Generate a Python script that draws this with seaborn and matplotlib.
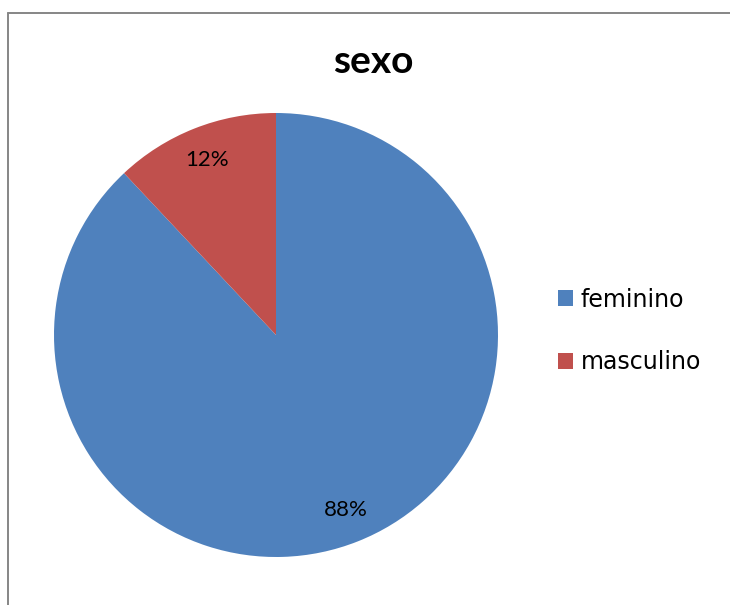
import matplotlib
matplotlib.use("Agg")
import matplotlib.pyplot as plt
import seaborn as sns
from matplotlib.patches import Patch
from matplotlib.lines import Line2D

categories = ["feminino", "masculino"]
values = [88, 12]
colors = ["#4F81BD", "#C0504D"]
title = "sexo"

sns.set_theme(style="white")
plt.rcParams["text.color"] = "#000000"

W, H = 730, 605
fig = plt.figure(figsize=(W / 100, H / 100), dpi=100)
fig.patch.set_facecolor("white")

# pie axes: center (276,335), radius 222 px
cx, cy, r = 276, 335, 222
ax = fig.add_axes([(cx - r) / W, (H - cy - r) / H, 2 * r / W, 2 * r / H])
wedges, texts, autotexts = ax.pie(
    values, colors=colors, startangle=90, counterclock=False,
    autopct=lambda p: f"{p:.0f}%", pctdistance=0.85, radius=1.0,
    wedgeprops=dict(linewidth=0),
    textprops=dict(fontsize=16, family=["Lato", "DejaVu Sans"], color="#000000"),
)
ax.set_xlim(-1, 1)
ax.set_ylim(-1, 1)
ax.set_aspect("equal")
ax.axis("off")

fig.text(373 / W, 1 - 73 / H, title, ha="center", va="baseline", color="#000000",
         fontsize=28, fontweight="bold", family=["Lato", "DejaVu Sans"])

handles = [Patch(facecolor=c, edgecolor="none", label=l) for c, l in zip(colors, categories)]
leg = fig.legend(handles=handles, loc="center left", bbox_to_anchor=(558 / W, 1 - 331 / H),
                 frameon=False, prop=dict(family="DejaVu Sans", size=17),
                 handlelength=0.65, handleheight=0.65, handletextpad=0.3,
                 labelspacing=1.65, borderpad=0, borderaxespad=0)
for t in leg.get_texts():
    t.set_color("#000000")

# outer border (cropped chart frame)
lc = "#868686"
fig.add_artist(Line2D([7.5 / W, 7.5 / W], [0, 1 - 13 / H], transform=fig.transFigure,
                      color=lc, linewidth=1.4))
fig.add_artist(Line2D([7.5 / W, 1], [1 - 13 / H, 1 - 13 / H], transform=fig.transFigure,
                      color=lc, linewidth=1.4))

fig.savefig("out.png", dpi=100, facecolor="white")
